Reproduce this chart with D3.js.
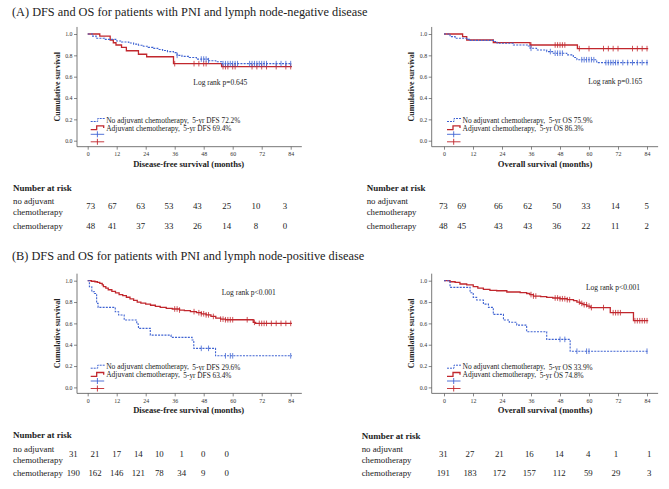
<!DOCTYPE html>
<html><head><meta charset="utf-8">
<script src="https://cdn.jsdelivr.net/npm/d3@7"></script>
<style>
html,body{margin:0;padding:0;background:#fff;}
svg text{font-family:"Liberation Serif","Times New Roman",serif;}
</style></head>
<body><svg id="c" width="669" height="489"></svg>
<script>
// ---------------- DATA ----------------
const titles = ["(A) DFS and OS for patients with PNI and lymph node-negative disease",
                "(B) DFS and OS for patients with PNI and lymph node-positive disease"];
const xTicks = [0,12,24,36,48,60,72,84];
const yTicks = [0,0.2,0.4,0.6,0.8,1.0];
const groupNames = ["No adjuvant chemotherapy,", "Adjuvant chemotherapy,"];
const riskRowLabels = [["no adjuvant","chemotherapy"],["chemotherapy"]];

// A - DFS
const aDfsNoT = [2,3.5,7,12,14,17,19,21,23,25,27,29,31,33,35.5,37,39,42,45,50,53,55.5];
const aDfsNoS = [0.98,0.96,0.95,0.935,0.925,0.915,0.905,0.895,0.885,0.875,0.865,0.855,0.845,0.835,0.825,0.80,0.79,0.78,0.765,0.75,0.74,0.722];
const aDfsNoC = [37,47,48,49,50,56,57,58,59,60,61,62,67,68,69,70,71,72,73,74,78,80,82,84];
const aDfsAdjT = [5,9.3,10.6,11.7,14,16,21,24.4,35.5,55.4];
const aDfsAdjS = [0.98,0.944,0.918,0.897,0.875,0.843,0.81,0.787,0.722,0.694];
const aDfsAdjC = [36,44,46,48,49,56,57,58,60,61,68,70,72,74,78,82,84];
// A - OS
const aOsNoT = [2.5,4.6,9.4,10.5,20.4,22,28.7,34.9,35.6,38.3,42.5,45.2,50.8,53.5,55,63.2];
const aOsNoS = [0.975,0.96,0.95,0.94,0.93,0.913,0.897,0.888,0.866,0.85,0.835,0.82,0.804,0.78,0.759,0.732];
const aOsNoC = [36,44,46,47,48,49,57,58,59,60,61,62,67,68,69,70,71,72,74,76,78,80,82,84];
const aOsAdjT = [7.7,9.4,20.4,35.6,55.2];
const aOsAdjS = [0.975,0.944,0.919,0.897,0.863];
const aOsAdjC = [36,46,47,48,49,50,56,60,66,68,70,72,78,80,82,84];
// B - DFS
const bDfsNoT = [0.7,1.7,2.8,3.7,4.3,11.4,12.8,15.1,20.3,21,25.9,34.5,43.2,43.9,52.9];
const bDfsNoS = [0.944,0.897,0.88,0.7875,0.75,0.709,0.678,0.631,0.594,0.553,0.49,0.469,0.444,0.366,0.296];
const bDfsNoC = [47,50,57,59,60,84];
const bDfsAdjT = [1.5,3,4,5,6,6.5,7.5,8.5,10,11.5,13,14.5,16,17.5,19,20.5,22,24,26,28,30,32.5,35,38,40,42.5,45,47,49,51,53,55,57,68.5,69.5];
const bDfsAdjS = [0.995,0.99,0.985,0.975,0.96,0.945,0.93,0.915,0.90,0.885,0.87,0.86,0.845,0.83,0.815,0.80,0.79,0.78,0.77,0.76,0.75,0.74,0.735,0.725,0.72,0.71,0.70,0.69,0.68,0.665,0.65,0.64,0.634,0.61,0.60];
const bDfsAdjC = [36,37,38,44,46,47,48,49,50,52,55,56,57,58,59,60,66,69,71,72,73,74,76,78,80,82,84];
// B - OS
const bOsNoT = [2.5,10.8,12.1,13.5,16.3,18.4,20.4,24.6,27,30.1,34.2,42.5,52.2];
const bOsNoS = [0.9375,0.8875,0.844,0.819,0.78,0.75,0.684,0.631,0.61,0.584,0.522,0.45,0.339];
const bOsNoC = [48,50,55,59,60,84];
const bOsAdjT = [2.5,4.6,6.6,9.4,12.1,14,16.3,19,21.8,26,31.5,34.2,35.5,37,40,42.5,45,48,51,53.6,55,56.3,57.5,59.1,60.5,68.8,78.4];
const bOsAdjS = [0.99,0.984,0.969,0.96,0.944,0.93,0.919,0.91,0.906,0.894,0.8875,0.88,0.87,0.856,0.85,0.844,0.838,0.831,0.822,0.8125,0.80,0.7875,0.775,0.7625,0.748,0.70,0.625];
const bOsAdjC = [36,37,38,46,47,48,49,50,51,52,56,57,58,59,60,61,66,70,71,72,73,79,80,81,82,83,84];

// Number at risk
const riskADfsNo = [73,67,63,53,43,25,10,3];
const riskADfsAdj = [48,41,37,33,26,14,8,0];
const riskAOsNo = [73,69,66,62,50,33,14,5];
const riskAOsAdj = [48,45,43,43,36,22,11,2];
const riskBDfsNo = [31,21,17,14,10,1,0,0];
const riskBDfsAdj = [190,162,146,121,78,34,9,0];
const riskBOsNo = [31,27,21,16,14,4,1,1];
const riskBOsAdj = [191,183,172,157,112,59,29,3];

// ---------------- LAYOUT / STYLE ----------------
const BLUE = "#3f63d2", RED = "#c1272d", AX = "#555";
const svg = d3.select("#c");
const FONT = '"Liberation Serif","Times New Roman",serif';

svg.append("text").attr("x",12).attr("y",16).attr("font-size",12.3).attr("fill","#222").text(titles[0]);
svg.append("text").attr("x",12).attr("y",259.5).attr("font-size",12.3).attr("fill","#222").text(titles[1]);

const panels = [
  {x0:87.7, y1:34, yAx:77, xlab:"Disease-free survival (months)", metric:"DFS",
   no:[aDfsNoT,aDfsNoS,aDfsNoC], adj:[aDfsAdjT,aDfsAdjS,aDfsAdjC], p:"Log rank p=0.645", px:193.3, py:85,
   fiveNo:"5-yr DFS 72.2%", fiveAdj:"5-yr DFS 69.4%"},
  {x0:444, y1:34, yAx:431.7, xlab:"Overall survival (months)", metric:"OS",
   no:[aOsNoT,aOsNoS,aOsNoC], adj:[aOsAdjT,aOsAdjS,aOsAdjC], p:"Log rank p=0.165", px:588.3, py:84,
   fiveNo:"5-yr OS 75.9%", fiveAdj:"5-yr OS 86.3%"},
  {x0:87.7, y1:280.7, yAx:77, xlab:"Disease-free survival (months)", metric:"DFS",
   no:[bDfsNoT,bDfsNoS,bDfsNoC], adj:[bDfsAdjT,bDfsAdjS,bDfsAdjC], p:"Log rank p<0.001", px:221.7, py:294.5,
   fiveNo:"5-yr DFS 29.6%", fiveAdj:"5-yr DFS 63.4%"},
  {x0:444, y1:280.7, yAx:431.7, xlab:"Overall survival (months)", metric:"OS",
   no:[bOsNoT,bOsNoS,bOsNoC], adj:[bOsAdjT,bOsAdjS,bOsAdjC], p:"Log rank p<0.001", px:586, py:289.5,
   fiveNo:"5-yr OS 33.9%", fiveAdj:"5-yr OS 74.8%"}
];

function stepAt(T,S,t){ let s=1; for(let i=0;i<T.length;i++){ if(T[i]<=t) s=S[i]; } return s; }

panels.forEach(P=>{
  const g = svg.append("g");
  const xs = d3.scaleLinear().domain([0,84]).range([P.x0, P.x0+203]);
  const ys = d3.scaleLinear().domain([0,1]).range([P.y1+106.7, P.y1]);
  const yBottom = ys(-0.056), yTop = ys(1.066);
  g.append("line").attr("x1",P.yAx).attr("x2",P.yAx).attr("y1",yTop).attr("y2",yBottom).attr("stroke",AX).attr("stroke-width",0.8);
  g.append("line").attr("x1",P.yAx).attr("x2",xs(88.6)).attr("y1",yBottom).attr("y2",yBottom).attr("stroke",AX).attr("stroke-width",0.8);
  const xa = g.append("g").attr("transform",`translate(0,${yBottom})`)
    .call(d3.axisBottom(xs).tickValues(xTicks).tickSize(3).tickPadding(2));
  const ya = g.append("g").attr("transform",`translate(${P.yAx},0)`)
    .call(d3.axisLeft(ys).tickValues(yTicks).tickFormat(d3.format(".1f")).tickSize(3).tickPadding(1.5));
  [xa,ya].forEach(a=>{
    a.select(".domain").remove();
    a.selectAll("line").attr("stroke",AX).attr("stroke-width",0.7);
    a.selectAll("text").attr("font-size",5.9).attr("font-family",FONT).attr("fill","#333");
  });
  g.append("text").attr("x",P.x0+101).attr("y",P.y1+132.5).attr("text-anchor","middle")
    .attr("font-size",8.6).attr("font-weight","bold").attr("fill","#222").text(P.xlab);
  g.append("text").attr("transform",`translate(${P.yAx-17.5},${P.y1+52.7}) rotate(-90)`).attr("text-anchor","middle")
    .attr("font-size",8).attr("font-weight","bold").attr("fill","#222").text("Cumulative survival");
  const line = d3.line().x(d=>xs(d[0])).y(d=>ys(d[1])).curve(d3.curveStepAfter);
  function drawCurve(D,color,dash,w){
    const [T,S,C] = D;
    const pts = [[0,1]].concat(T.map((t,i)=>[t,S[i]]));
    pts.push([84.5,S[S.length-1]]);
    g.append("path").attr("d",line(pts)).attr("fill","none").attr("stroke",color)
      .attr("stroke-width",w).attr("stroke-dasharray",dash);
    g.selectAll(null).data(C).enter().append("line")
      .attr("x1",d=>xs(d)).attr("x2",d=>xs(d))
      .attr("y1",d=>ys(stepAt(T,S,d))-2.8).attr("y2",d=>ys(stepAt(T,S,d))+2.8)
      .attr("stroke",color).attr("stroke-width",0.8);
  }
  drawCurve(P.adj,RED,null,1.3);
  drawCurve(P.no,BLUE,"2,1.2",1.1);
  g.append("text").attr("x",P.px).attr("y",P.py).attr("font-size",7.5).attr("fill","#222").text(P.p);
  const lx = P.x0+3, ly = P.y1+86;
  g.append("path").attr("d",`M${lx},${ly+1.5}H${lx+7}V${ly-1.5}H${lx+14}`).attr("fill","none")
    .attr("stroke",BLUE).attr("stroke-width",1).attr("stroke-dasharray","2,1");
  const t1 = g.append("text").attr("x",lx+15.5).attr("y",ly+2.5).attr("font-size",7.5).attr("fill","#222");
  t1.append("tspan").text(groupNames[0]);
  t1.append("tspan").attr("dx",3.5).attr("dy",0.8).attr("font-size",7.3).text(P.fiveNo);
  const ly2 = ly+7.6;
  g.append("path").attr("d",`M${lx},${ly2+2}H${lx+6}V${ly2-1.8}H${lx+13}V${ly2+0.5}`).attr("fill","none")
    .attr("stroke",RED).attr("stroke-width",1.3);
  const t2 = g.append("text").attr("x",lx+15.5).attr("y",ly2+3).attr("font-size",7.5).attr("fill","#222");
  t2.append("tspan").text(groupNames[1]);
  t2.append("tspan").attr("dx",3.5).attr("dy",0.8).attr("font-size",7.3).text(P.fiveAdj);
  [[BLUE,ly+14.3],[RED,ly+21.8]].forEach(([c,y])=>{
    g.append("line").attr("x1",lx).attr("x2",lx+13.5).attr("y1",y).attr("y2",y).attr("stroke",c).attr("stroke-width",0.9);
    g.append("line").attr("x1",lx+6.7).attr("x2",lx+6.7).attr("y1",y-3).attr("y2",y+3).attr("stroke",c).attr("stroke-width",0.9);
  });
});

const tables = [
  {lx:13, hy:190.7, r1:[204.3,215], n1:209.3, n2:229.3, rows:[riskADfsNo,riskADfsAdj],
   cols:[90.7,112.3,140.7,169,197.3,226.7,256,285]},
  {lx:366.7, hy:190.7, r1:[204.3,215], n1:209.3, n2:229.3, rows:[riskAOsNo,riskAOsAdj],
   cols:[443.3,461.7,498.3,527.7,556.7,586,615.3,646.7]},
  {lx:13, hy:438.3, r1:[452.3,463.3], n1:457.3, n2:475.5, rows:[riskBDfsNo,riskBDfsAdj],
   cols:[73.3,95,116.7,138.3,159.3,181.7,203.3,226.7]},
  {lx:361.7, hy:438.8, r1:[452.3,463.3], n1:457.3, n2:475.5, rows:[riskBOsNo,riskBOsAdj],
   cols:[443.3,470,499.3,529.3,559.3,588.3,616,649.3]}
];
tables.forEach(T=>{
  const g = svg.append("g").attr("fill","#222");
  g.append("text").attr("x",T.lx).attr("y",T.hy).attr("font-size",9).attr("font-weight","bold").text("Number at risk");
  g.append("text").attr("x",T.lx).attr("y",T.r1[0]).attr("font-size",8.8).text(riskRowLabels[0][0]);
  g.append("text").attr("x",T.lx).attr("y",T.r1[1]).attr("font-size",8.8).text(riskRowLabels[0][1]);
  g.append("text").attr("x",T.lx).attr("y",T.n2).attr("font-size",8.8).text(riskRowLabels[1][0]);
  const cx = d3.scaleOrdinal().domain(d3.range(8)).range(T.cols);
  [[T.rows[0],T.n1],[T.rows[1],T.n2]].forEach(([vals,y])=>{
    g.selectAll(null).data(vals).enter().append("text")
      .attr("x",(d,i)=>cx(i)).attr("y",y).attr("text-anchor","middle").attr("font-size",8.8).text(d=>d);
  });
});
</script></body></html>
